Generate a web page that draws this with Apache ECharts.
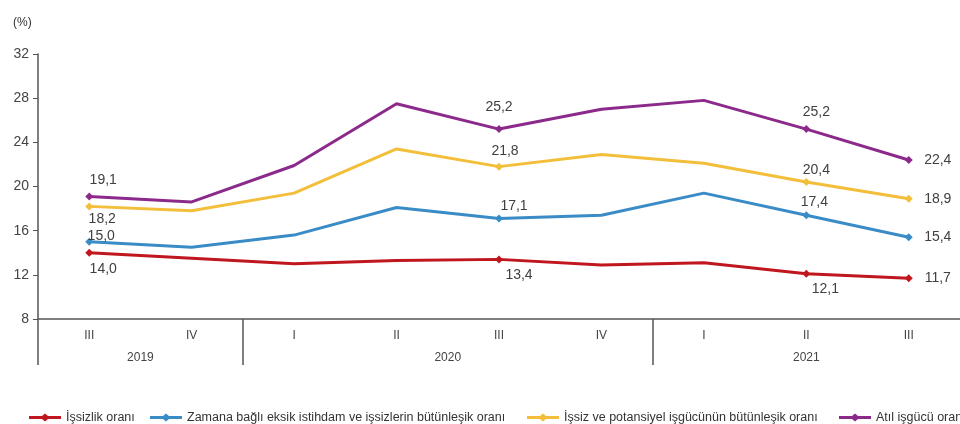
<!DOCTYPE html>
<html>
<head>
<meta charset="utf-8">
<script src="https://cdn.jsdelivr.net/npm/echarts@6/dist/echarts.min.js"></script>
<style>html,body{margin:0;padding:0;background:#fff}#c{width:960px;height:424px}</style>
</head>
<body>
<div id="c"></div>
<script>
const quarters = ['III','IV','I','II','III','IV','I','II','III'];
const yearLabels = {1:'2019', 4:'2020', 7.5:'2021'};
const issizlik   = [14.0, 13.5, 13.0, 13.3, 13.4, 12.9, 13.1, 12.1, 11.7];
const zamana     = [15.0, 14.5, 15.6, 18.1, 17.1, 17.4, 19.4, 17.4, 15.4];
const potansiyel = [18.2, 17.8, 19.4, 23.4, 21.8, 22.9, 22.1, 20.4, 18.9];
const atil       = [19.1, 18.6, 21.9, 27.5, 25.2, 27.0, 27.8, 25.2, 22.4];
const names = ['İşsizlik oranı','Zamana bağlı eksik istihdam ve işsizlerin bütünleşik oranı','İşsiz ve potansiyel işgücünün bütünleşik oranı','Atıl işgücü oranı'];
const labeled = [0, 4, 7, 8];

const colors = ['#c0161e', '#3a8cc6', '#f3bf3a', '#8c2a8c'];
const offsets = [
  [[14,16],[20,16],[19,15],[29,0]],
  [[12,-6],[15,-12],[8,-13],[29,0]],
  [[13,13],[6,-15],[10,-12],[29,0]],
  [[14,-16],[0,-22],[10,-17],[29,0]]
];
const legendLeft = [24, 145, 522, 834];
const fmt = v => v.toFixed(1).replace('.', ',');

function buildData(vals, si) {
  return vals.map((v, i) => {
    const k = labeled.indexOf(i);
    if (k < 0) return { value: v, symbol: 'none', label: { show: false } };
    return {
      value: v, symbol: 'diamond',
      label: { show: true, position: 'inside', offset: offsets[si][k], formatter: p => fmt(p.value) }
    };
  });
}

const allSeries = [issizlik, zamana, potansiyel, atil].map((vals, si) => ({
  name: names[si], type: 'line', xAxisIndex: 0, yAxisIndex: 0,
  data: buildData(vals, si), symbolSize: 8,
  lineStyle: { width: 3, color: colors[si] },
  itemStyle: { color: colors[si] },
  label: { color: '#404040', fontSize: 14, fontFamily: 'Liberation Sans' },
  emphasis: { disabled: true }, animation: false, z: 2 + si
}));

const iconPath = 'path://M0,2.5 H13 L16,0 L19,2.5 H32 V5.5 H19 L16,8 L13,5.5 H0 Z';
const legends = names.map((n, i) => ({
  data: [n], left: legendLeft[i], top: 409, icon: iconPath, itemWidth: 32, itemHeight: 8,
  itemGap: 5, selectedMode: false, padding: [2, 5, 0, 5],
  textStyle: { fontSize: 12.5, color: '#333', fontFamily: 'Liberation Sans' }
}));

const chart = echarts.init(document.getElementById('c'));
chart.setOption({
  animation: false,
  title: { text: '(%)', left: 8, top: 12, textStyle: { fontSize: 12, fontWeight: 'normal', color: '#333', fontFamily: 'Liberation Sans' } },
  legend: legends,
  grid: { left: 38, top: 54, width: 926, height: 265 },
  xAxis: [
    { type: 'category', data: quarters, boundaryGap: true, position: 'bottom',
      axisLine: { lineStyle: { color: '#555', width: 1.5 } },
      axisTick: { show: false },
      axisLabel: { color: '#444', fontSize: 12, margin: 11, fontFamily: 'Liberation Sans' } },
    { type: 'value', min: 0, max: 9, position: 'bottom',
      axisLine: { show: false }, splitLine: { show: false },
      axisTick: { show: true, customValues: [0, 2, 6], length: 46, lineStyle: { color: '#555', width: 1.5 } },
      axisLabel: { customValues: [1, 4, 7.5], formatter: v => yearLabels[v] || '', color: '#444', fontSize: 12, margin: 33, fontFamily: 'Liberation Sans' } }
  ],
  yAxis: { type: 'value', min: 8, max: 32, interval: 4,
    axisLine: { show: true, lineStyle: { color: '#555', width: 1.5 } },
    axisTick: { show: true, length: 5, lineStyle: { color: '#555' } },
    splitLine: { show: false },
    axisLabel: { color: '#444', fontSize: 14, margin: 9, fontFamily: 'Liberation Sans' } },
  series: allSeries
});
</script>
</body>
</html>
